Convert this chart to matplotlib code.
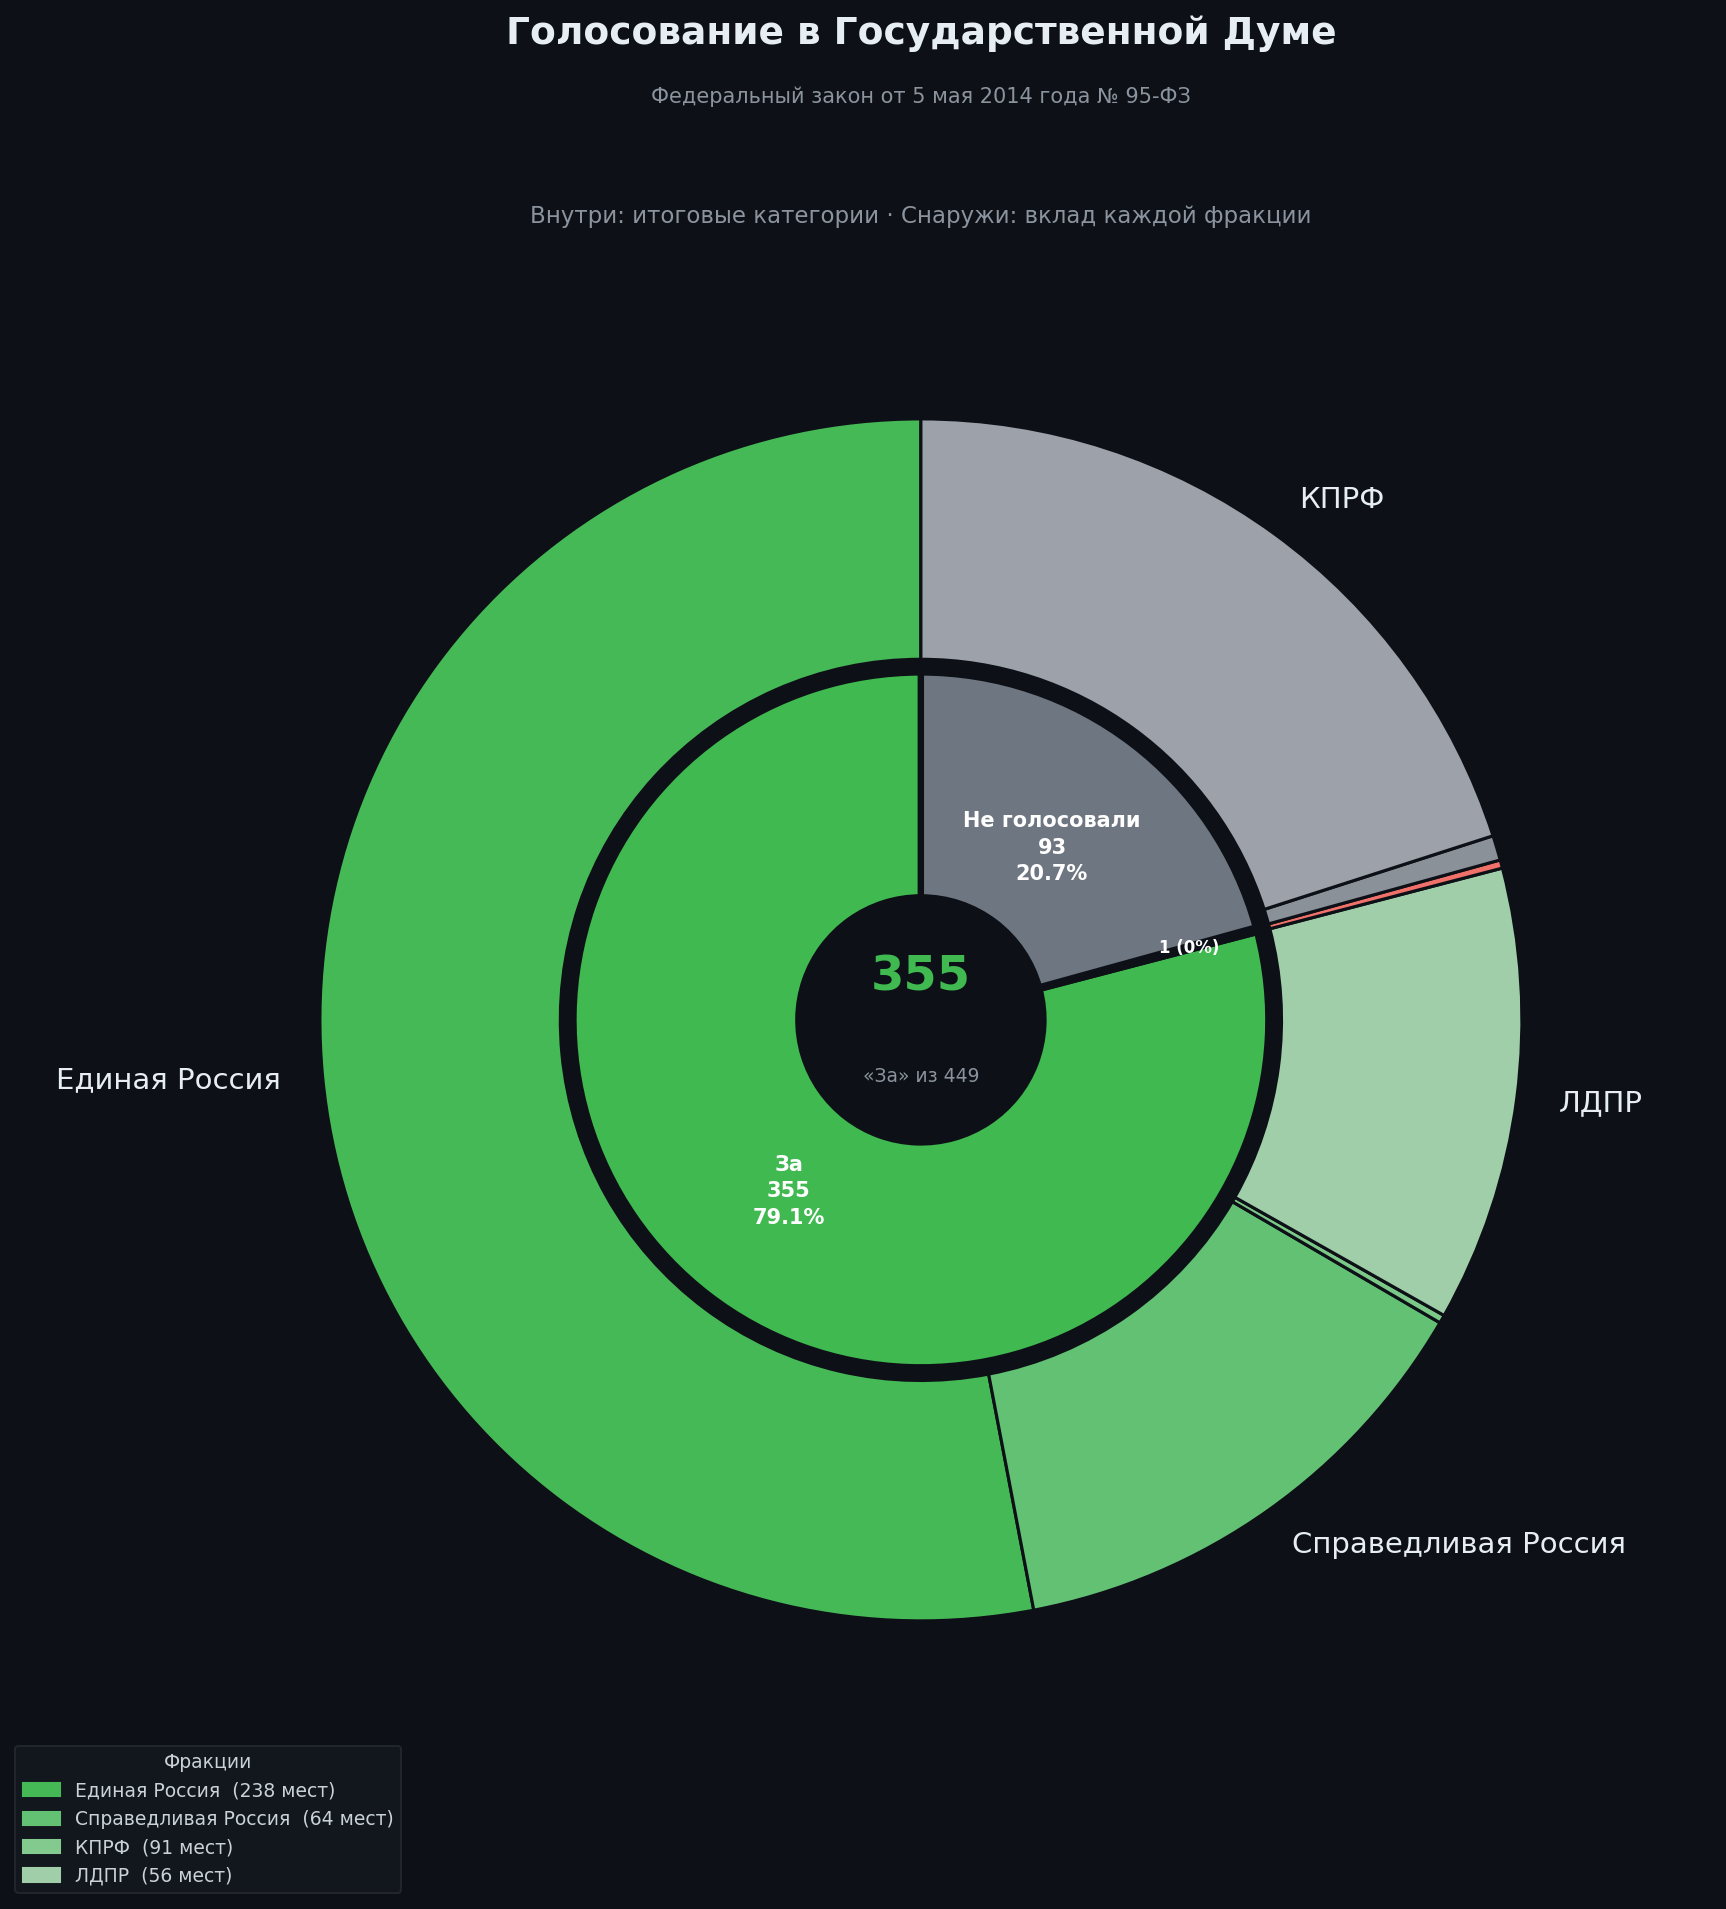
import matplotlib
matplotlib.use('Agg')
import matplotlib.pyplot as plt
import matplotlib.patches as mpatches
import numpy as np

# Data: faction seats, final vote categories and each faction's contribution
factions = ['Единая Россия', 'Справедливая Россия', 'КПРФ', 'ЛДПР']
seats = [238, 64, 91, 56]
faction_colors = ['#46b957', '#63c174', '#82ca8d', '#a0cea8']

categories = ['За', 'Против', 'Не голосовали']
category_totals = [355, 1, 93]
category_colors = ['#3fb950', '#f85149', '#6e7681']

outer_faction = ['Единая Россия', 'Справедливая Россия', 'КПРФ', 'ЛДПР',
                 'ЛДПР', 'Справедливая Россия', 'КПРФ']
outer_category = ['За', 'За', 'За', 'За', 'Против', 'Не голосовали', 'Не голосовали']
outer_votes = [238, 61, 1, 55, 1, 3, 90]
outer_colors = ['#46b957', '#63c174', '#7cc888', '#a0cea8',
                '#f0706a', '#8b9199', '#9da1aa']

BG = '#0d1117'
TEXT = '#e6edf3'
MUTED = '#8b949e'

total = sum(category_totals)

fig = plt.figure(figsize=(1726 / 150, 1909 / 150), dpi=150, facecolor=BG)
ax = fig.add_axes([0.0983, 0.0722, 0.8705, 0.7871])
ax.set_facecolor(BG)

# outer ring: label only the biggest slice of each faction
outer_labels = []
for i, f in enumerate(outer_faction):
    biggest = max(v for ff, v in zip(outer_faction, outer_votes) if ff == f)
    if outer_votes[i] == biggest and f not in outer_labels:
        outer_labels.append(f)
    else:
        outer_labels.append('')

ax.pie(outer_votes, radius=1.0, startangle=90, colors=outer_colors,
       labels=outer_labels, labeldistance=1.07,
       textprops=dict(color=TEXT, fontsize=14),
       wedgeprops=dict(width=0.4, edgecolor=BG, linewidth=1.5))

inner_wedges, _ = ax.pie(category_totals, radius=0.578, startangle=90,
                         colors=category_colors,
                         wedgeprops=dict(width=0.374, edgecolor=BG, linewidth=3))

# inner labels
for w, cat, v in zip(inner_wedges, categories, category_totals):
    ang = np.deg2rad((w.theta1 + w.theta2) / 2)
    pct = v / total * 100
    if v > 10:
        r = 0.36
        ax.text(r * np.cos(ang), r * np.sin(ang), f'{cat}\n{v}\n{pct:.1f}%',
                ha='center', va='center', color='white', fontsize=10,
                fontweight='bold', linespacing=1.4)
    else:
        r = 0.463
        ax.text(r * np.cos(ang), r * np.sin(ang), f'{v} ({pct:.0f}%)',
                ha='center', va='center', color='white', fontsize=8,
                fontweight='bold')

# centre
ax.text(0, 0.071, str(category_totals[0]), ha='center', va='center',
        color='#3fb950', fontsize=23, fontweight='bold')
ax.text(0, -0.095, f'«За» из {total}', ha='center', va='center',
        color=MUTED, fontsize=9)

ax.set_xlim(-1.25, 1.25)
ax.set_ylim(-1.25, 1.25)
ax.set_aspect('equal')
ax.axis('off')

cx = 921 / 1726
fig.text(cx, 1 - 34 / 1909, 'Голосование в Государственной Думе', ha='center',
         va='center', color=TEXT, fontsize=18, fontweight='bold')
fig.text(cx, 1 - 96.5 / 1909, 'Федеральный закон от 5 мая 2014 года № 95-ФЗ',
         ha='center', va='center', color=MUTED, fontsize=10)
fig.text(cx, 1 - 216 / 1909,
         'Внутри: итоговые категории · Снаружи: вклад каждой фракции',
         ha='center', va='center', color=MUTED, fontsize=11)

handles = [mpatches.Patch(color=c, label=f'{f}  ({s} мест)')
           for f, s, c in zip(factions, seats, faction_colors)]
leg = fig.legend(handles=handles, title='Фракции', loc='lower left',
                 bbox_to_anchor=(15 / 1726, 16 / 1909), borderaxespad=0,
                 fontsize=9, title_fontsize=9,
                 facecolor='#12161d', edgecolor='#21262d', framealpha=1,
                 labelcolor='#c9d1d9')
leg.get_title().set_color('#c9d1d9')

fig.savefig('out.png', dpi=150, facecolor=BG)
